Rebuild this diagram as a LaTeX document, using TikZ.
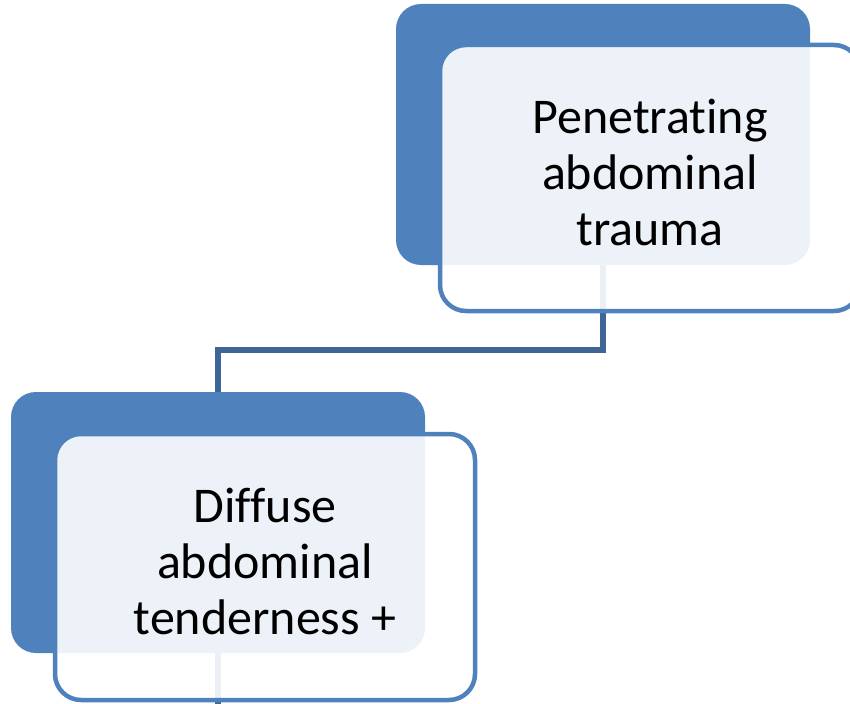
\documentclass[tikz,border=0pt]{standalone}
\usepackage{fontspec}
\setmainfont{Carlito}[Ligatures=NoCommon]
\usepackage{xcolor}
\usetikzlibrary{positioning}
\definecolor{accent}{HTML}{4F81BD}
\definecolor{linkblue}{HTML}{3D6697}
\newcommand{\boxtext}[1]{\raisebox{7pt}{\begin{tabular}{@{}c@{}}#1\end{tabular}}}

\begin{document}
\begin{tikzpicture}[x=1pt, y=-1pt,
    backbox/.style={rounded corners=25pt, fill=accent, draw=none, minimum width=414pt, minimum height=261pt, inner sep=0pt, outer sep=0pt},
    frontbox/.style={rounded corners=26pt, fill=white, fill opacity=0.9, text opacity=1, draw=accent, line width=4.5pt, minimum width=420pt, minimum height=266pt, inner sep=0pt, outer sep=0pt, font=\fontsize{50}{56}\selectfont},
    link/.style={draw=linkblue, line width=5.5pt}]

    \useasboundingbox (0,0) rectangle (850,703);

    %Nodes
    \node[backbox, anchor=north west](trauma_back) at (396,4) {};
    \node[backbox, anchor=north west](tender_back) at (11,392) {};
    \coordinate (tender_out) at ([yshift=-52pt]tender_back.south);

    %Lines
    \draw[link] (trauma_back.south) -- ([yshift=-85pt]trauma_back.south) -| (tender_back.north);
    \draw[link] (tender_back.south) -- (tender_out);

    %Text boxes
    \node[frontbox, below right=41pt and 44pt of trauma_back.north west](trauma){\boxtext{Penetrating\\abdominal\\trauma}};
    \node[frontbox, below right=42pt and 44pt of tender_back.north west](tender){\boxtext{Diffuse\\abdominal\\tenderness +}};

\end{tikzpicture}
\end{document}
